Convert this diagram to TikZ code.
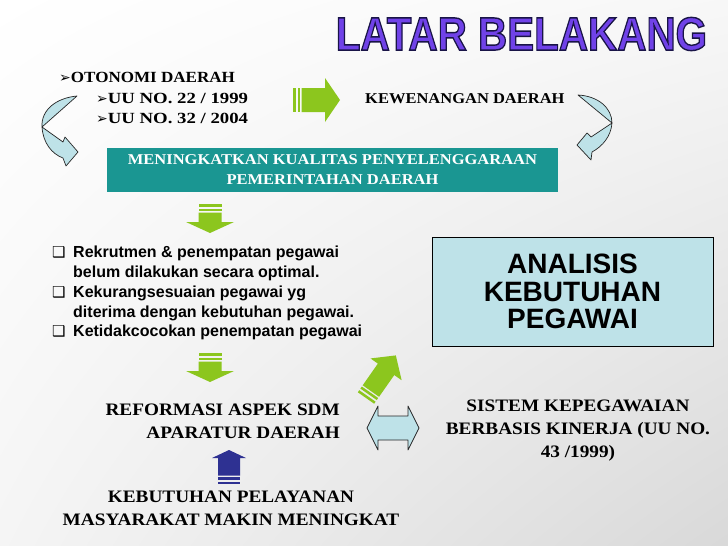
\documentclass[tikz,border=0pt]{standalone}
\usepackage{fontspec}
\setmainfont{Liberation Serif}[FakeStretch=1.1]
\setsansfont{Liberation Sans}
\newfontfamily\dejavu{DejaVu Sans}
\usetikzlibrary{positioning,shadings}

\definecolor{limegreen}{RGB}{140,198,30}
\definecolor{tealbox}{RGB}{26,150,146}
\definecolor{paleblue}{RGB}{190,226,232}
\definecolor{titleviolet}{RGB}{112,66,232}
\definecolor{navyarrow}{RGB}{46,49,146}

% block arrow with two stripes at the tail, pointing along +x
% #1 length, #2 head length, #3 body half width, #4 head half width
\newcommand{\stripedarrow}[4]{%
  \fill (0,-#3) rectangle (2.5,#3);
  \fill (4.5,-#3) rectangle (7,#3);
  \fill (8.5,-#3) -- ({#1-#2},-#3) -- ({#1-#2},-#4) -- (#1,0)
    -- ({#1-#2},#4) -- ({#1-#2},#3) -- (8.5,#3) -- cycle;}
% outlined letters for the title
\newcommand{\outlinetext}[1]{\special{pdf:literal direct 2 Tr 1.4 w 0.1 0.08 0.28 RG}#1\special{pdf:literal direct 0 Tr}}
\newcommand{\arrowbullet}{{\dejavu\fontsize{14}{14}\selectfont ➢}}
\newcommand{\sqbullet}{\makebox[21pt][l]{\dejavu\fontsize{15}{15}\selectfont ❑}}

\begin{document}
\begin{tikzpicture}[x=1pt, y=-1pt,
  seriftext/.style={font=\bfseries\fontsize{15.5}{20}\selectfont, inner sep=0pt},
  bigtext/.style={font=\bfseries\fontsize{17.5}{23}\selectfont, inner sep=0pt, align=center},
  listtext/.style={font=\sffamily\bfseries\fontsize{16}{19.75}\selectfont, inner sep=0pt, align=left},
  curvearrow/.style={fill=paleblue, draw=black!85, line width=0.7pt, line join=round},
  greenarrow/.style={fill=limegreen},
  bluearrow/.style={fill=navyarrow}]
    \useasboundingbox (0,0) rectangle (728,546);
    % background, a bit grey towards the lower right
    \shade[upper left=white, upper right=white!97!black,
           lower left=white!96!black, lower right=black!15] (0,0) rectangle (728,546);

    % title
    \node[font=\sffamily\bfseries\fontsize{47}{47}\selectfont, inner sep=0pt, text=titleviolet]
        (title) at (521.5,34) {\scalebox{0.86}[1]{\outlinetext{LATAR BELAKANG}}};

    % first row
    \node[seriftext, anchor=base west] (otonomi) at (59,82) {\arrowbullet OTONOMI DAERAH};
    \node[seriftext, anchor=base west] (uu22) at (96,103) {\arrowbullet\scalebox{1.1}[1]{UU NO. 22 / 1999}};
    \node[seriftext, anchor=base west] (uu32) at (96,123) {\arrowbullet\scalebox{1.1}[1]{UU NO. 32 / 2004}};
    \node[seriftext, anchor=base west, font=\bfseries\fontsize{15}{20}\selectfont]
        (kewenangan) at (365,103) {KEWENANGAN DAERAH};
    \begin{scope}[greenarrow, shift={(293,100)}]
        \stripedarrow{47}{15}{12}{22}
    \end{scope}

    % curved arrows on both sides
    \filldraw[curvearrow] (77,96) .. controls (56,98) and (41,110) .. (42,127)
        .. controls (43,143) and (52,154) .. (63,158) -- (66,166) -- (78,152)
        -- (65,137) -- (63,142) -- (42,127) -- cycle;
    \filldraw[curvearrow] (578,95) .. controls (598,96) and (612,108) .. (612,123)
        .. controls (611,136) and (603,146) .. (592,152) -- (591,160) -- (577,145)
        -- (587,133) -- (591,137) -- (612,123) -- cycle;

    % teal box
    \node[fill=tealbox, minimum width=451, minimum height=44, inner sep=0pt,
          text=white, align=center, font=\bfseries\fontsize{15}{20}\selectfont]
        (kualitas) at (332.5,170) {MENINGKATKAN KUALITAS PENYELENGGARAAN\\PEMERINTAHAN DAERAH};

    \begin{scope}[greenarrow, shift={(210,204)}, rotate=-90]
        \stripedarrow{29}{11}{11.5}{24}
    \end{scope}

    % problems
    \node[listtext, anchor=north west] (masalah) at (52,246) {%
        \sqbullet Rekrutmen \& penempatan pegawai\\
        \hspace*{21pt}belum dilakukan secara optimal.\\
        \sqbullet Kekurangsesuaian pegawai yg\\
        \hspace*{21pt}diterima dengan kebutuhan pegawai.\\
        \sqbullet Ketidakcocokan penempatan pegawai};

    \node[draw=black, line width=0.8pt, fill=paleblue, minimum width=281, minimum height=109,
          align=center, font=\sffamily\bfseries\fontsize{28}{27.5}\selectfont]
        (analisis) at (572.5,291.5) {ANALISIS\\KEBUTUHAN\\PEGAWAI};

    \begin{scope}[greenarrow, shift={(210,353)}, rotate=-90]
        \stripedarrow{29}{11}{11.5}{24}
    \end{scope}
    \begin{scope}[greenarrow, shift={(366,398)}, rotate=55]
        \stripedarrow{52}{17}{10}{19}
    \end{scope}

    % lower part
    \node[bigtext, align=right, anchor=east] (reformasi) at (340,421.5) {REFORMASI ASPEK SDM\\APARATUR DAERAH};
    \node[bigtext] (sistem) at (578,431) {SISTEM KEPEGAWAIAN\\BERBASIS KINERJA (UU NO.\\43 /1999)};
    \filldraw[curvearrow] (367,428) -- (378,406) -- (378,416) -- (408,416) -- (408,406)
        -- (419,428) -- (408,450) -- (408,440) -- (378,440) -- (378,450) -- cycle;

    \begin{scope}[bluearrow, shift={(229,484)}, rotate=90]
        \stripedarrow{34}{8}{11}{17}
    \end{scope}
    \node[bigtext] (kebutuhan) at (231,508) {KEBUTUHAN PELAYANAN\\MASYARAKAT MAKIN MENINGKAT};
\end{tikzpicture}
\end{document}
